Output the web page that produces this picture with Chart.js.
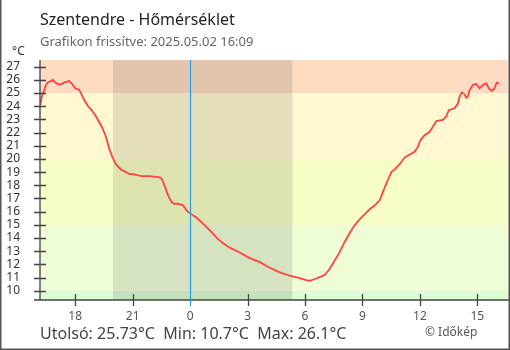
<!DOCTYPE html>
<html>
<head>
<meta charset="utf-8">
<script src="https://cdn.jsdelivr.net/npm/chart.js@4.4.1/dist/chart.umd.min.js"></script>
<style>
  html, body { margin: 0; padding: 0; background: #fff; }
  canvas { display: block; }
</style>
</head>
<body>
<canvas id="c" width="510" height="350"></canvas>
<script>
// Hours relative to midnight (negative = previous day)
const times = [-7.82,-7.75,-7.67,-7.56,-7.44,-7.27,-7.18,-7.09,-6.92,-6.74,-6.57,-6.31,-6.17,-6.0,-5.79,-5.67,-5.53,-5.35,-5.18,-4.96,-4.75,-4.57,-4.40,-4.23,-4.05,-3.88,-3.62,-3.35,-3.15,-2.97,-2.54,-2.10,-1.58,-1.46,-1.32,-1.15,-0.97,-0.85,-0.63,-0.37,-0.19,0.02,0.33,0.59,0.86,1.12,1.38,1.72,2.07,2.59,3.11,3.64,4.16,4.68,5.20,5.72,6.06,6.24,6.59,7.03,7.29,7.55,7.81,8.07,8.33,8.59,8.85,9.11,9.38,9.64,9.90,10.07,10.28,10.51,10.68,10.94,11.20,11.46,11.72,11.89,12.02,12.24,12.51,12.68,12.85,13.20,13.37,13.51,13.81,13.98,14.07,14.19,14.33,14.42,14.50,14.59,14.76,14.94,15.11,15.28,15.46,15.63,15.77,15.89,16.01,16.14];
const temps = [24.1,24.7,25.0,25.5,25.8,25.9,26.0,25.86,25.66,25.66,25.8,25.9,25.7,25.35,25.23,24.9,24.47,24.03,23.76,23.33,22.8,22.3,21.7,20.8,20.1,19.6,19.2,19.0,18.85,18.85,18.7,18.7,18.6,18.44,17.9,17.24,16.73,16.6,16.6,16.48,16.1,15.85,15.55,15.2,14.83,14.45,14.03,13.6,13.27,12.9,12.48,12.17,11.75,11.4,11.14,10.96,10.8,10.76,10.93,11.2,11.67,12.3,12.93,13.7,14.38,14.96,15.42,15.8,16.18,16.48,16.86,17.5,18.25,19.0,19.2,19.6,20.1,20.34,20.54,20.9,21.4,21.8,22.06,22.44,22.87,22.95,23.2,23.7,23.84,24.2,24.7,25.05,24.9,24.64,24.7,25.2,25.6,25.7,25.35,25.6,25.74,25.3,25.17,25.35,25.78,25.73];

const xTicks = [-6,-3,0,3,6,9,12,15];
const yTicks = [10,11,12,13,14,15,16,17,18,19,20,21,22,23,24,25,26,27];

// Temperature bands: [from, to, colour]
const bandLimits = [9.3, 10, 15, 20, 25, 27.5];
const bandColors = ['#dcfcd3', '#effdd6', '#f6fdc6', '#fff8d0', '#fcdcc2'];
const nightStart = -4.03;  // sunset (hours)
const nightEnd = 5.34;     // sunrise (hours)

const titleText = 'Szentendre - Hőmérséklet';
const subtitleText = 'Grafikon frissítve: 2025.05.02 16:09';
const footerText = 'Utolsó: 25.73°C  Min: 10.7°C  Max: 26.1°C';
const creditText = '© Időkép';
const unitText = '°C';

const FONT = '"Noto Sans", "Open Sans", sans-serif';

const bgPlugin = {
  id: 'bg',
  beforeDatasetsDraw(chart) {
    const {ctx, chartArea: a, scales: {x, y}} = chart;
    ctx.save();
    for (let i = 0; i < bandColors.length; i++) {
      const top = y.getPixelForValue(bandLimits[i + 1]);
      const bot = y.getPixelForValue(bandLimits[i]);
      ctx.fillStyle = bandColors[i];
      ctx.fillRect(a.left, Math.max(top, a.top), a.right - a.left, Math.min(bot, a.bottom) - Math.max(top, a.top));
    }
    const n0 = x.getPixelForValue(nightStart), n1 = x.getPixelForValue(nightEnd);
    ctx.fillStyle = 'rgba(0,0,0,0.1)';
    ctx.fillRect(n0, a.top, n1 - n0, a.bottom - a.top);
    ctx.restore();
  },
  afterDatasetsDraw(chart) {
    const {ctx, chartArea: a, scales: {x, y}} = chart;
    ctx.save();
    ctx.strokeStyle = '#444';
    ctx.lineWidth = 1.3;
    ctx.beginPath();
    ctx.moveTo(a.left, a.top); ctx.lineTo(a.left, a.bottom);
    ctx.moveTo(a.left - 6, a.bottom); ctx.lineTo(a.right + 2, a.bottom);
    for (const v of yTicks) {
      const py = Math.round(y.getPixelForValue(v)) + 0.5;
      ctx.moveTo(a.left - 6, py); ctx.lineTo(a.left + 6, py);
    }
    for (const v of xTicks) {
      if (v === 0) continue;
      const px = Math.round(x.getPixelForValue(v)) + 0.5;
      ctx.moveTo(px, a.bottom - 6); ctx.lineTo(px, a.bottom + 6);
    }
    ctx.stroke();
    const mx = Math.round(x.getPixelForValue(0)) + 0.5;
    ctx.strokeStyle = '#2b9be8';
    ctx.lineWidth = 1.2;
    ctx.beginPath();
    ctx.moveTo(mx, a.top); ctx.lineTo(mx, a.bottom + 6);
    ctx.stroke();
    ctx.restore();
  },
  afterDraw(chart) {
    const {ctx, width, height} = chart;
    ctx.save();
    ctx.textBaseline = 'alphabetic';
    ctx.textAlign = 'left';
    ctx.fillStyle = '#222';
    ctx.font = '16px ' + FONT;
    ctx.fillText(titleText, 40, 25);
    ctx.fillStyle = '#666';
    ctx.font = '13px ' + FONT;
    ctx.fillText(subtitleText, 40, 46);
    ctx.fillStyle = '#333';
    ctx.font = '12px ' + FONT;
    ctx.fillText(unitText, 12, 55);
    ctx.fillStyle = '#444';
    ctx.font = '16px ' + FONT;
    ctx.fillText(footerText, 40, 339);
    ctx.fillStyle = '#555';
    ctx.font = '12px ' + FONT;
    ctx.fillText(creditText, 425, 336);
    ctx.strokeStyle = '#555';
    ctx.lineWidth = 1.5;
    ctx.beginPath();
    ctx.moveTo(0.75, 0); ctx.lineTo(0.75, height - 0.75);
    ctx.lineTo(width - 0.75, height - 0.75); ctx.lineTo(width - 0.75, 0);
    ctx.stroke();
    ctx.restore();
  }
};

new Chart(document.getElementById('c'), {
  type: 'line',
  data: {
    datasets: [{
      data: times.map((t, i) => ({x: t, y: temps[i]})),
      borderColor: '#ff4242',
      borderWidth: 1.8,
      pointRadius: 0,
      tension: 0,
      fill: false
    }]
  },
  options: {
    responsive: false,
    animation: false,
    devicePixelRatio: 1,
    layout: {padding: {top: 60, left: 0, right: 2, bottom: 0}},
    plugins: {legend: {display: false}, tooltip: {enabled: false}, title: {display: false}},
    scales: {
      x: {
        type: 'linear',
        min: -7.84,
        max: 16.6,
        afterBuildTicks: s => { s.ticks = xTicks.map(v => ({value: v})); },
        afterFit: s => { s.height = 50; },
        grid: {display: false, drawTicks: false},
        border: {display: false},
        ticks: {
          autoSkip: false,
          padding: 9,
          color: '#555',
          font: {family: FONT, size: 12},
          maxRotation: 0,
          callback: v => String(((v % 24) + 24) % 24)
        }
      },
      y: {
        min: 9.3,
        max: 27.5,
        afterBuildTicks: s => { s.ticks = yTicks.map(v => ({value: v})); },
        afterFit: s => { s.width = 40; },
        grid: {display: false, drawTicks: false},
        border: {display: false},
        ticks: {
          autoSkip: false,
          padding: 20,
          color: '#333',
          font: {family: FONT, size: 12},
          callback: v => String(v)
        }
      }
    }
  },
  plugins: [bgPlugin]
});
</script>
</body>
</html>
